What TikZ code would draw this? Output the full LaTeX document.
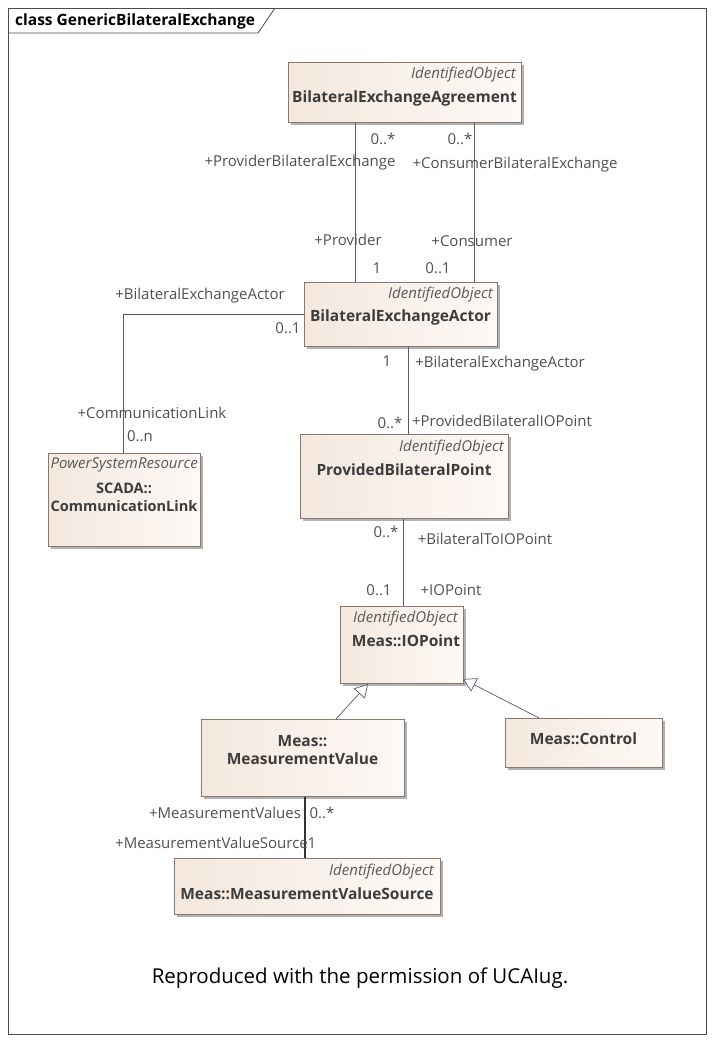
\documentclass[tikz,border=0pt]{standalone}
\usepackage{fontspec}
\setmainfont{Open Sans}
\usetikzlibrary{shadows,arrows.meta,calc}
\definecolor{boxline}{RGB}{140,120,110}
\definecolor{fillA}{RGB}{244,232,222}
\definecolor{fillB}{RGB}{253,249,246}
\definecolor{txt}{RGB}{60,60,60}
\definecolor{lnk}{RGB}{85,90,110}
\tikzset{
  cls/.style={draw=boxline, line width=0.8pt, left color=fillA, right color=fillB, anchor=north west, inner sep=0pt,
    general shadow={fill=black!30, shadow xshift=2.5pt, shadow yshift=-2.5pt}},
  stereo/.style={font=\fontsize{15}{17}\selectfont\itshape, text=txt!85, inner sep=0pt},
  cname/.style={font=\fontsize{15.5}{19}\selectfont\bfseries, text=txt, inner sep=0pt, align=center},
  lab/.style={font=\fontsize{15}{17}\selectfont, text=txt!90, inner sep=0pt},
  assoc/.style={draw=lnk, line width=0.8pt},
  gen/.style={draw=lnk, line width=0.7pt, -{Triangle[open, length=13pt, width=15pt, fill=white]}},
}
\begin{document}
\begin{tikzpicture}[x=1pt,y=-1pt]
\useasboundingbox (0,0) rectangle (714,1043);
% frame
\draw[line width=0.8pt, draw=black!70] (8,8) rectangle (706,1034);
\draw[line width=0.8pt, draw=black!70] (8,33) -- (258,33) -- (275,8);
\node[font=\fontsize{15.5}{17}\selectfont\bfseries, anchor=west, inner sep=0pt] (title) at (15,21) {class GenericBilateralExchange};

% classes
\node[cls, minimum width=233pt, minimum height=60pt] (bea) at (288,62) {};
\node[stereo, anchor=east] (beas) at (516,75) {IdentifiedObject};
\node[cname] (bean) at (404.5,98) {BilateralExchangeAgreement};

\node[cls, minimum width=193pt, minimum height=64pt] (act) at (304,282) {};
\node[stereo, anchor=east] (acts) at (493,295) {IdentifiedObject};
\node[cname] (actn) at (400.5,317) {BilateralExchangeActor};

\node[cls, minimum width=152pt, minimum height=93pt] (cl) at (48,453) {};
\node[stereo, anchor=east] (cls) at (198,465) {PowerSystemResource};
\node[cname, font=\fontsize{14.5}{19}\selectfont\bfseries] (cln) at (124,497) {SCADA::\\[-1pt]CommunicationLink};

\node[cls, minimum width=208pt, minimum height=84pt] (pbp) at (300,434) {};
\node[stereo, anchor=east] (pbps) at (504,448) {IdentifiedObject};
\node[cname] (pbpn) at (404,470) {ProvidedBilateralPoint};

\node[cls, minimum width=123pt, minimum height=77pt] (io) at (340,606) {};
\node[stereo, anchor=east] (ios) at (458,619) {IdentifiedObject};
\node[cname] (ion) at (406,641) {Meas::IOPoint};

\node[cls, minimum width=203pt, minimum height=77pt] (mv) at (201,719) {};
\node[cname] (mvn) at (302.5,750) {Meas::\\[-1pt]MeasurementValue};

\node[cls, minimum width=157pt, minimum height=49pt] (ctl) at (505,718) {};
\node[cname] (ctln) at (583.5,739) {Meas::Control};

\node[cls, minimum width=266pt, minimum height=56pt] (mvs) at (174,858) {};
\node[stereo, anchor=east] (mvss) at (434,872) {IdentifiedObject};
\node[cname] (mvsn) at (307,894) {Meas::MeasurementValueSource};

% associations
\draw[assoc] (bea.south -| 355,0) -- (act.north -| 355,0);
\node[lab] at (383,139) {0..*};
\node[lab] at (300,163) {+ProviderBilateralExchange};
\node[lab] at (348,240) {+Provider};
\node[lab] at (377,268) {1};

\draw[assoc] (bea.south -| 474,0) -- (act.north -| 474,0);
\node[lab] at (460,139) {0..*};
\node[lab] at (515,165) {+ConsumerBilateralExchange};
\node[lab] at (472,241) {+Consumer};
\node[lab] at (438,268) {0..1};

\coordinate (bend) at (123,314);
\draw[assoc] (act.west |- bend) -- (bend) -- (cl.north -| bend);
\node[lab] at (200,296) {+BilateralExchangeActor};
\node[lab] at (288,328) {0..1};
\node[lab] at (152,413) {+CommunicationLink};
\node[lab] at (140,436) {0..n};

\draw[assoc] (act.south -| 408,0) -- (pbp.north -| 408,0);
\node[lab] at (387,361) {1};
\node[lab] at (500,364) {+BilateralExchangeActor};
\node[lab] at (390,423) {0..*};
\node[lab] at (502,421) {+ProvidedBilateralIOPoint};

\draw[assoc] (pbp.south -| 403,0) -- (io.north -| 403,0);
\node[lab] at (386,532) {0..*};
\node[lab] at (485,539) {+BilateralToIOPoint};
\node[lab] at (379,590) {0..1};
\node[lab] at (451,590) {+IOPoint};

\draw[assoc, draw=black!80, line width=1.1pt] (mv.south -| 305,0) -- (mvs.north -| 305,0);
\node[lab] at (225,813) {+MeasurementValues};
\node[lab] at (322,813) {0..*};
\node[lab, anchor=east] at (308,843) {+MeasurementValueSource};
\node[lab] at (312,843) {1};

% generalizations
\coordinate (g1) at (368,684);
\coordinate (g2) at (463,679);
\draw[gen] (mv.north -| 336,0) -- (g1);
\draw[gen] (ctl.north -| 539,0) -- (g2);

\node[font=\fontsize{20.5}{24}\selectfont, inner sep=0pt] (foot) at (360,978) {Reproduced with the permission of UCAIug.};
\end{tikzpicture}
\end{document}
